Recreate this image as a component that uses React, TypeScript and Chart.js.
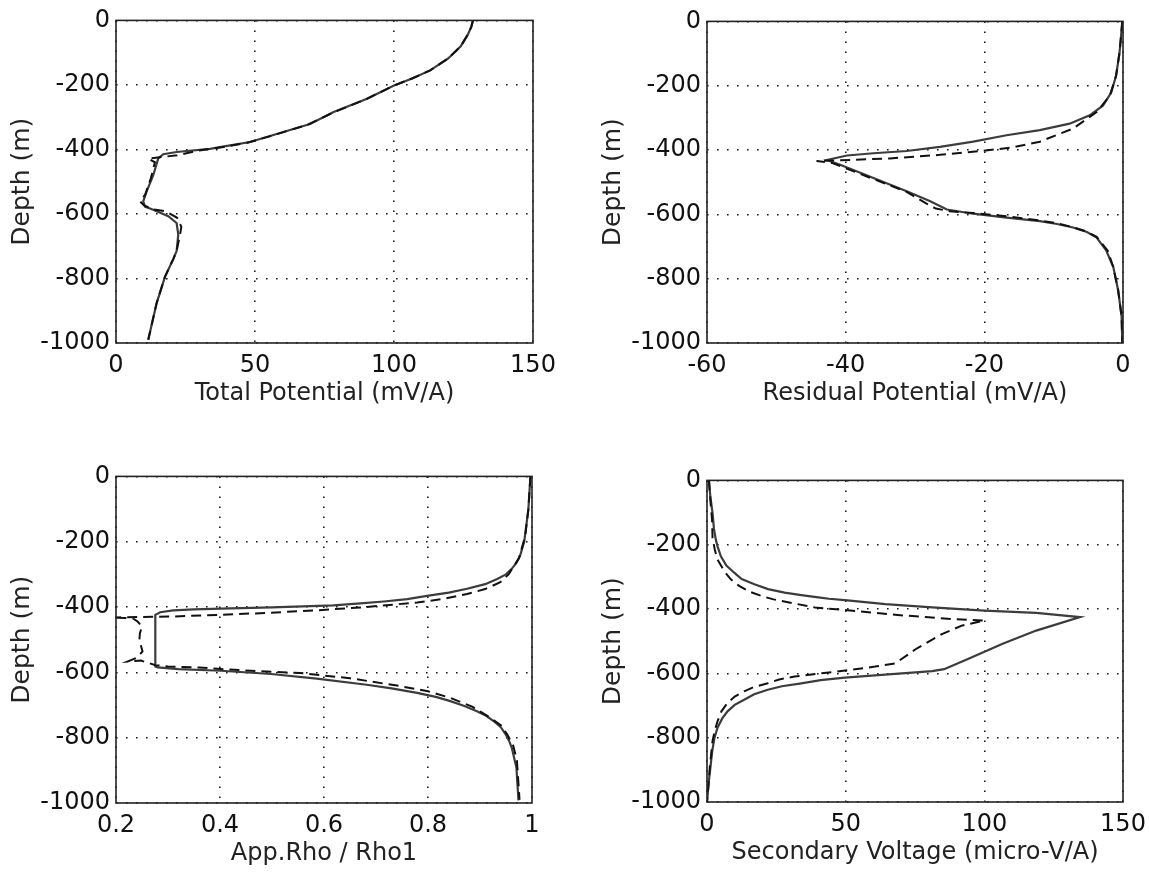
import React, { useEffect, useRef } from 'react';
import { Chart, registerables } from 'chart.js';

Chart.register(...registerables);

// ---------- Data ----------
// Panel 1: Total Potential (mV/A) vs depth
const tpSolidX = [128.4, 127.8, 126.5, 124, 119.5, 113, 106.5, 100, 90.3, 78.3, 69.8, 57.8, 48.2, 40, 33.8, 21.8, 17, 15.2, 13.4, 11, 9.8, 10.4, 13.4, 18.8, 21.8, 22.4, 21.8, 20.6, 17.6, 14.6, 11.6];
const tpSolidY = [0, -20, -45, -80, -118, -155, -180, -202, -243, -284, -321, -352, -377, -389, -398, -408, -415, -428, -480, -531, -561, -577, -587, -607, -628, -664, -715, -740, -795, -877, -990];
const tpDashX = [128.4, 127.8, 126.5, 124, 119.5, 113, 106.5, 100, 90, 78, 69, 57, 47, 38, 30, 22, 15, 11.6, 14, 12.5, 10.5, 8.6, 10, 13, 18, 22, 23.5, 23, 21.8, 20.6, 17.6, 14.6, 11.6];
const tpDashY = [0, -20, -45, -80, -118, -155, -180, -202, -244, -286, -323, -355, -380, -393, -403, -418, -425, -428, -440, -490, -540, -561, -573, -585, -592, -612, -640, -665, -715, -740, -795, -877, -990];

// Panel 2: Residual Potential (mV/A) vs depth
const rpSolidX = [-0.1, -0.3, -0.5, -1, -1.7, -2.9, -4.8, -7.7, -12, -16.8, -21.6, -26.4, -31.2, -36, -39.8, -42.7, -40.8, -36, -31.2, -27.8, -25.4, -21.6, -16.8, -12, -9.5, -7.2, -5.2, -3.8, -2.4, -1.4, -0.7, -0.2, -0.1];
const rpSolidY = [0, -50, -97, -169, -221, -262, -292, -318, -338, -354, -374, -390, -403, -410, -417, -431, -446, -487, -528, -559, -585, -598, -610, -621, -630, -641, -655, -672, -713, -764, -836, -918, -1000];
const rpDashX = [-0.1, -0.3, -0.5, -1, -1.9, -3.8, -7.2, -12, -16, -19.2, -26.4, -33.6, -40.8, -44.2, -42, -36, -31.2, -28.4, -27, -25, -21.6, -16.8, -12, -9.5, -7.2, -5.2, -3.8, -2.2, -1.4, -0.7, -0.2, -0.1];
const rpDashY = [0, -50, -97, -169, -231, -282, -333, -374, -392, -400, -415, -426, -432, -434, -440, -490, -530, -566, -582, -590, -596, -606, -619, -628, -640, -654, -670, -713, -764, -836, -918, -1000];

// Panel 3: App.Rho / Rho1 vs depth
const arSolidX = [0.997, 0.993, 0.985, 0.977, 0.97, 0.961, 0.95, 0.933, 0.91, 0.875, 0.84, 0.798, 0.76, 0.715, 0.67, 0.618, 0.5, 0.42, 0.35, 0.31, 0.285, 0.2756, 0.2756, 0.28, 0.32, 0.402, 0.498, 0.586, 0.682, 0.73, 0.779, 0.815, 0.843, 0.87, 0.894, 0.912, 0.926, 0.94, 0.949, 0.956, 0.961, 0.97, 0.974];
const arSolidY = [0, -101, -200, -243, -265, -283, -300, -314, -330, -344, -356, -366, -376, -383, -389, -395, -401, -404, -407, -410, -416, -424, -582, -585, -590, -595, -605, -619, -638, -649, -663, -675, -688, -703, -719, -733, -749, -768, -789, -810, -830, -891, -992];
const arDashX = [0.997, 0.993, 0.987, 0.975, 0.955, 0.939, 0.91, 0.875, 0.83, 0.779, 0.682, 0.586, 0.49, 0.394, 0.31, 0.19, 0.232, 0.242, 0.25, 0.246, 0.245, 0.251, 0.24, 0.222, 0.248, 0.276, 0.3, 0.36, 0.402, 0.46, 0.554, 0.65, 0.746, 0.8, 0.843, 0.885, 0.92, 0.94, 0.952, 0.964, 0.971, 0.976];
const arDashY = [0, -101, -182, -250, -300, -324, -345, -360, -375, -386, -400, -410, -418, -424, -429, -432, -434, -445, -460, -480, -500, -536, -555, -567, -564, -578, -582, -585, -590, -595, -602, -618, -642, -658, -678, -705, -739, -762, -789, -825, -870, -990];

// Panel 4: Secondary Voltage (micro-V/A) vs depth
const svSolidX = [0.7, 1.2, 2, 2.5, 3.2, 3.8, 5, 7, 9.8, 12.5, 17.1, 22, 28, 34, 40.1, 44, 49.7, 64.3, 81.2, 100, 118.7, 134.5, 118.7, 106.6, 94.5, 85.5, 81.2, 70.3, 49.7, 41, 34, 27, 21.9, 17, 13.4, 10, 7.4, 5.5, 3.8, 2.7, 1.9, 0.7, 0];
const svSolidY = [0, -50, -102, -150, -185, -205, -236, -265, -287, -307, -323, -338, -349, -357, -364, -368, -372, -385, -395, -405, -412, -425, -467, -508, -554, -587, -593, -600, -613, -621, -631, -640, -651, -665, -682, -698, -718, -740, -769, -800, -841, -933, -1000];
const svDashX = [0.7, 1.2, 1.8, 2, 2.8, 3.8, 6.2, 8.5, 11.6, 15, 19.5, 24, 29.2, 38.9, 49.7, 58.2, 67.9, 78.8, 88.5, 100, 92.1, 84.9, 75.2, 67.9, 60.6, 51, 41.3, 31.6, 26, 21.9, 17, 13.4, 10, 7.4, 5.2, 3.8, 2.8, 2, 1, 0.5, 0];
const svDashY = [0, -60, -120, -179, -215, -246, -282, -307, -328, -345, -359, -370, -379, -395, -403, -410, -418, -425, -431, -436, -451, -477, -525, -569, -579, -590, -600, -610, -619, -631, -642, -656, -672, -692, -718, -749, -778, -810, -892, -950, -1000];

const depthMin = -1000;
const depthMax = 0;
const depthStep = 200;

// ---------- Helpers ----------
const FONT = '"DejaVu Sans", "Liberation Sans", sans-serif';

function pts(xs: number[], ys: number[]) {
  return xs.map((x, i) => ({ x, y: ys[i] }));
}

const framePlugin = {
  id: 'frame',
  afterDatasetsDraw(chart: any) {
    const { ctx, chartArea: a } = chart;
    ctx.save();
    ctx.strokeStyle = '#222';
    ctx.lineWidth = 1.6;
    ctx.strokeRect(a.left, a.top, a.right - a.left, a.bottom - a.top);
    ctx.restore();
  },
};

type PanelProps = {
  left: number;
  top: number;
  plotW: number;
  plotH: number;
  xMin: number;
  xMax: number;
  xStep: number;
  xTitle: string;
  solid: { x: number; y: number }[];
  dashed: { x: number; y: number }[];
  fmt: (v: number) => string;
};

const PAD_TOP = 17;
const Y_W = 116;
const X_H = 75;
const PAD_R = 45;

function Panel(p: PanelProps) {
  const ref = useRef<HTMLCanvasElement | null>(null);
  const W = Y_W + p.plotW + PAD_R;
  const H = PAD_TOP + p.plotH + X_H;
  useEffect(() => {
    if (!ref.current) return;
    const gridCommon = {
      color: '#1a1a1a',
      lineWidth: 1.6,
      drawTicks: false,
    };
    const borderCommon = { display: false, dash: [1.6, 8.4] };
    const chart = new Chart(ref.current, {
      type: 'scatter',
      data: {
        datasets: [
          {
            data: p.dashed,
            showLine: true,
            borderColor: '#111',
            borderWidth: 2,
            borderDash: [10, 6],
            pointRadius: 0,
            tension: 0,
            fill: false,
          },
          {
            data: p.solid,
            showLine: true,
            borderColor: '#3c3c3c',
            borderWidth: 2.2,
            pointRadius: 0,
            tension: 0,
            fill: false,
          },
        ],
      },
      options: {
        responsive: false,
        maintainAspectRatio: false,
        animation: false,
        events: [],
        layout: { padding: { top: PAD_TOP, right: PAD_R, left: 0, bottom: 0 } },
        plugins: { legend: { display: false }, tooltip: { enabled: false } },
        scales: {
          x: {
            type: 'linear',
            min: p.xMin,
            max: p.xMax,
            ticks: {
              stepSize: p.xStep,
              padding: 8,
              color: '#111',
              font: { family: FONT, size: 24 },
              callback: (v: any) => p.fmt(Number(v)),
            },
            grid: gridCommon,
            border: borderCommon,
            title: {
              display: true,
              text: p.xTitle,
              color: '#222',
              font: { family: FONT, size: 24 },
              padding: { top: 0, bottom: 9.6 },
            },
            afterFit: (s: any) => {
              s.height = X_H;
            },
          },
          y: {
            type: 'linear',
            min: depthMin,
            max: depthMax,
            ticks: {
              stepSize: depthStep,
              padding: 6,
              color: '#111',
              font: { family: FONT, size: 24 },
              callback: (v: any) => String(Math.round(Number(v))),
            },
            grid: gridCommon,
            border: borderCommon,
            title: {
              display: true,
              text: 'Depth (m)',
              color: '#222',
              font: { family: FONT, size: 25 },
              padding: { top: 7, bottom: 0 },
            },
            afterFit: (s: any) => {
              s.width = Y_W;
            },
          },
        },
      } as any,
      plugins: [framePlugin],
    });
    return () => chart.destroy();
  }, []);
  return (
    <canvas
      ref={ref}
      width={W}
      height={H}
      style={{ position: 'absolute', left: p.left - Y_W, top: p.top - PAD_TOP, width: W, height: H }}
    />
  );
}

const fmtInt = (v: number) => String(Math.round(v));
const fmtDec = (v: number) => String(Math.round(v * 10) / 10);

export default function App() {
  return (
    <div
      style={{
        position: 'fixed',
        left: 0,
        top: 0,
        width: 1149,
        height: 877,
        overflow: 'hidden',
        background: '#fff',
      }}
    >
      <Panel left={116} top={17} plotW={417} plotH={326} xMin={0} xMax={150} xStep={50}
        xTitle="Total Potential (mV/A)" solid={pts(tpSolidX, tpSolidY)} dashed={pts(tpDashX, tpDashY)} fmt={fmtInt} />
      <Panel left={707} top={18} plotW={416} plotH={325} xMin={-60} xMax={0} xStep={20}
        xTitle="Residual Potential (mV/A)" solid={pts(rpSolidX, rpSolidY)} dashed={pts(rpDashX, rpDashY)} fmt={fmtInt} />
      <Panel left={116} top={473} plotW={416} plotH={330} xMin={0.2} xMax={1} xStep={0.2}
        xTitle="App.Rho / Rho1" solid={pts(arSolidX, arSolidY)} dashed={pts(arDashX, arDashY)} fmt={fmtDec} />
      <Panel left={707} top={477} plotW={416} plotH={325} xMin={0} xMax={150} xStep={50}
        xTitle="Secondary Voltage (micro-V/A)" solid={pts(svSolidX, svSolidY)} dashed={pts(svDashX, svDashY)} fmt={fmtInt} />
    </div>
  );
}
